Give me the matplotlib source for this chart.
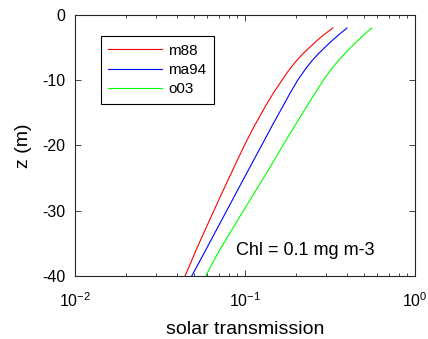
import numpy as np
import matplotlib
matplotlib.use("Agg")
import matplotlib.pyplot as plt

# depth (m) and solar transmission for the three absorption schemes
depth = [-2, -3, -4, -5, -6, -7, -8, -9, -10,
         -12, -14, -17, -20, -24, -28, -32, -36, -38, -40]
trans_m88 = [0.328, 0.292, 0.263, 0.239, 0.218, 0.201, 0.187, 0.175, 0.165,
             0.1466, 0.1318, 0.1135, 0.0991, 0.0838, 0.0711, 0.0605, 0.0516,
             0.0479, 0.0444]
trans_ma94 = [0.398, 0.357, 0.323, 0.294, 0.269, 0.248, 0.231, 0.217, 0.204,
              0.184, 0.167, 0.1442, 0.1252, 0.1035, 0.0857, 0.0710, 0.0588,
              0.0535, 0.0486]
trans_o03 = [0.556, 0.502, 0.457, 0.418, 0.384, 0.354, 0.329, 0.308, 0.289,
             0.258, 0.231, 0.196, 0.167, 0.1355, 0.109, 0.0879, 0.0710,
             0.0645, 0.0587]

plt.rcParams['font.family'] = ['Liberation Sans', 'DejaVu Sans']
plt.rcParams['mathtext.fontset'] = 'custom'
plt.rcParams['mathtext.rm'] = 'Liberation Sans'
plt.rcParams['axes.unicode_minus'] = False

fig = plt.figure(figsize=(4.28, 3.39), dpi=100)
ax = fig.add_axes([0.1752, 0.1858, 0.7944, 0.770])

ax.plot(trans_m88, depth, color=(1, 0, 0), lw=0.8, label='m88')
ax.plot(trans_ma94, depth, color=(0, 0, 1), lw=0.8, label='ma94')
ax.plot(trans_o03, depth, color=(0, 1, 0), lw=0.8, label='o03')

ax.set_xscale('log')
ax.set_xlim(1e-2, 1e0)
ax.set_ylim(-40, 0)
ax.set_yticks([-40, -30, -20, -10, 0])

axis_col = (0.15, 0.15, 0.15)
for s in ax.spines.values():
    s.set_color(axis_col)
    s.set_linewidth(0.8)
ax.tick_params(which='both', direction='in', top=True, right=True,
               color=axis_col, labelsize=11.5, labelcolor='black')
ax.tick_params(which='major', length=4, width=0.6)
ax.tick_params(which='minor', length=2.5, width=0.6)
ax.tick_params(axis='x', which='major', pad=11)
ax.tick_params(axis='y', which='major', pad=7)

ax.set_xlabel('solar transmission', fontsize=14, labelpad=8)
ax.set_ylabel('z (m)', fontsize=14, labelpad=7)

leg = ax.legend(loc='upper left', bbox_to_anchor=(0.0756, 0.9195),
                borderaxespad=0, fancybox=False, edgecolor='black',
                fontsize=11, handlelength=3.5, labelspacing=0.35,
                borderpad=0.5, handletextpad=0.4, framealpha=1)
leg.get_frame().set_linewidth(0.8)

ax.text(0.4735, 0.0996, 'Chl = 0.1 mg m-3', transform=ax.transAxes,
        fontsize=13, va='center', ha='left')

fig.savefig('out.png', dpi=100)
